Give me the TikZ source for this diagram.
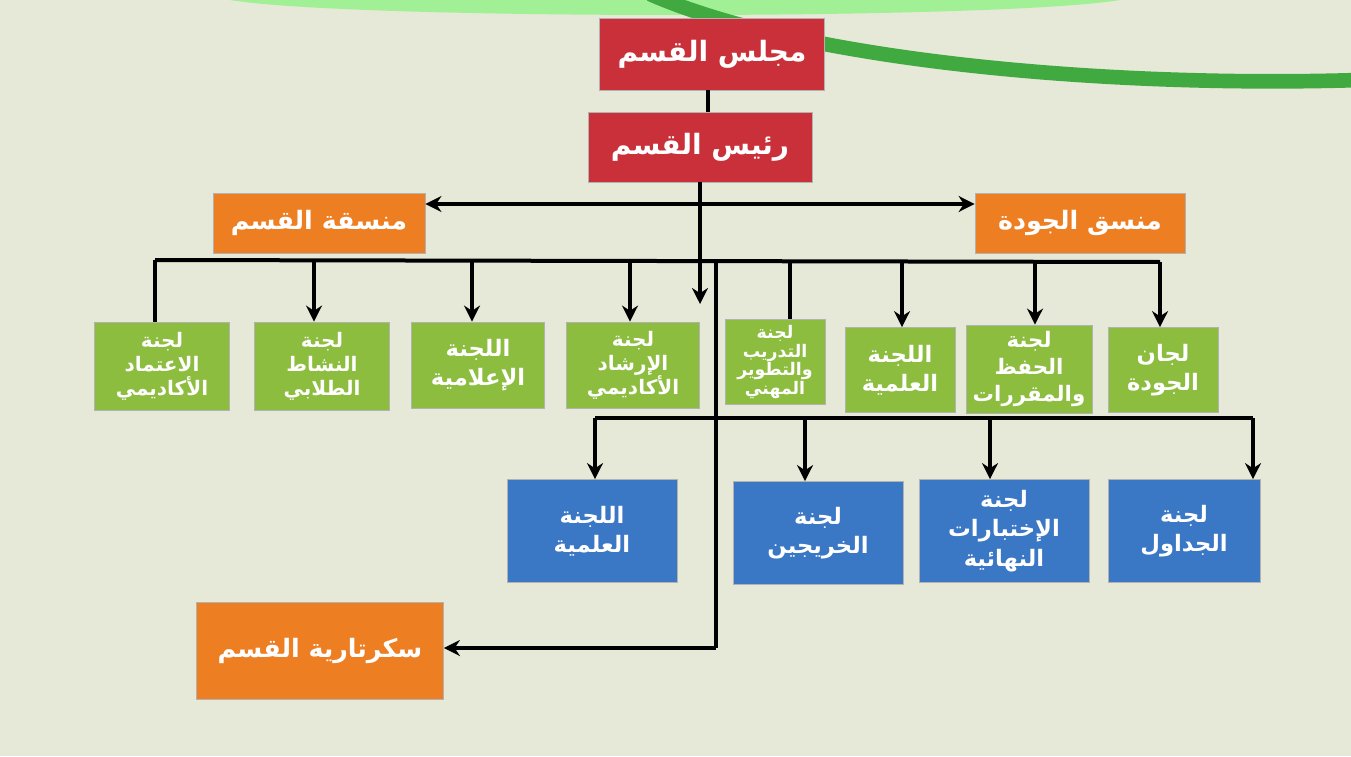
\documentclass[tikz,border=0pt]{standalone}
\usepackage{fontspec}
\newfontfamily\arabicfont[Script=Arabic]{DejaVu Sans}
\TeXXeTstate=1
\usetikzlibrary{arrows.meta}
\newcommand\AR[1]{{\arabicfont\bfseries\beginR #1\endR}}
\definecolor{bg}{HTML}{E6E9D7}
\definecolor{rd}{HTML}{C9303A}
\definecolor{og}{HTML}{EE7E22}
\definecolor{gr}{HTML}{8CBD3F}
\definecolor{bl}{HTML}{3A77C4}
\begin{document}
\begin{tikzpicture}[x=0.75pt,y=-0.75pt,
  box/.style={draw=white!70!black,line width=0.6pt,text=white,align=center,inner sep=0pt},
  bx/.style args={#1/#2/#3}{box,fill=#1,minimum width=#2*0.75pt,minimum height=#3*0.75pt},
  ln/.style={line width=3pt,black},
  ar/.style={ln,-{Stealth[length=12pt,width=12pt]}}]
\fill[bg] (0,0) rectangle (1351,756);
\useasboundingbox (0,0) rectangle (1351,756);
\fill[green!30!bg] (230,0) -- (1120,0) .. controls (1000,20) and (350,20) .. (230,0) -- cycle;
\draw[line width=11pt,green!55!black!75] (650,-6) .. controls (800,60) and (1100,88) .. (1360,80);
% top
\node[bx=rd/225/72,font=\fontsize{21}{24}\selectfont] (majlis) at (712,54) {\AR{مجلس القسم}};
\node[bx=rd/224/70,font=\fontsize{21}{24}\selectfont] (rais) at (700,147) {\AR{رئيس القسم}};
\node[bx=og/212/60,font=\fontsize{19}{22}\selectfont] (munasiqa) at (319,223) {\AR{منسقة القسم}};
\node[bx=og/210/60,font=\fontsize{19}{22}\selectfont] (jawda) at (1080,223) {\AR{منسق الجودة}};
% green
\begin{scope}[every node/.append style={font=\fontsize{15}{18}\selectfont}]
\node[bx=gr/135/88] (g1) at (162,366) {\AR{لجنة}\\\AR{الاعتماد}\\\AR{الأكاديمي}};
\node[bx=gr/135/88] (g2) at (322,366) {\AR{لجنة}\\\AR{النشاط}\\\AR{الطلابي}};
\node[bx=gr/133/86,font=\fontsize{17}{22}\selectfont] (g3) at (478,365) {\AR{اللجنة}\\\AR{الإعلامية}};
\node[bx=gr/133/86] (g4) at (633,365) {\AR{لجنة}\\\AR{الإرشاد}\\\AR{الأكاديمي}};
\node[bx=gr/100/85,font=\fontsize{13}{14}\selectfont] (g5) at (775,362) {\AR{لجنة}\\\AR{التدريب}\\\AR{والتطوير}\\\AR{المهني}};
\node[bx=gr/110/85,font=\fontsize{17}{22}\selectfont] (g6) at (900,370) {\AR{اللجنة}\\\AR{العلمية}};
\node[bx=gr/126/88,font=\fontsize{16}{20}\selectfont] (g7) at (1029,369) {\AR{لجنة}\\\AR{الحفظ}\\\AR{والمقررات}};
\node[bx=gr/110/85,font=\fontsize{17}{22}\selectfont] (g8) at (1163,370) {\AR{لجان}\\\AR{الجودة}};
\end{scope}
% blue
\begin{scope}[every node/.append style={font=\fontsize{17}{22}\selectfont}]
\node[bx=bl/170/103] (b1) at (592,531) {\AR{اللجنة}\\\AR{العلمية}};
\node[bx=bl/170/103] (b2) at (818,533) {\AR{لجنة}\\\AR{الخريجين}};
\node[bx=bl/170/103] (b3) at (1004,531) {\AR{لجنة}\\\AR{الإختبارات}\\\AR{النهائية}};
\node[bx=bl/152/103] (b4) at (1184,531) {\AR{لجنة}\\\AR{الجداول}};
\end{scope}
\node[bx=og/247/97,font=\fontsize{19}{22}\selectfont] (sec) at (320,651) {\AR{سكرتارية القسم}};
% connectors
\draw[ln] (majlis.south -| 708,0) -- (rais.north -| 708,0);
\draw[ln,{Stealth[length=12pt,width=12pt]}-{Stealth[length=12pt,width=12pt]}] (munasiqa.east |- 0,204) -- (jawda.west |- 0,204);
\draw[ar] (rais.south) -- (700,304);
\coordinate (busL) at (155,260);
\coordinate (busR) at (1160,262);
\draw[ln] (busL) -- (busR);
\draw[ln] (busL) -- (g1.north -| busL);
\draw[ar] (314,260) -- (g2.north -| 314,0);
\draw[ar] (472,260) -- (g3.north -| 472,0);
\draw[ar] (630,261) -- (g4.north -| 630,0);
\draw[ln] (790,261) -- (g5.north -| 790,0);
\draw[ar] (902,261) -- (g6.north -| 902,0);
\draw[ar] (1035,262) -- (g7.north -| 1035,0);
\draw[ar] (busR) -- (g8.north -| busR);
\coordinate (vt) at (716,262);
\coordinate (vb) at (716,648);
\draw[ln] (vt) -- (vb);
\draw[ar] (vb) -- (sec.east |- vb);
\coordinate (b2L) at (595,418);
\coordinate (b2R) at (1253,418);
\draw[ln] (b2L) -- (b2R);
\draw[ar] (b2L) -- (b1.north -| b2L);
\draw[ar] (805,418) -- (b2.north -| 805,0);
\draw[ar] (990,418) -- (b3.north -| 990,0);
\draw[ar] (b2R) -- (b4.north -| b2R);
\end{tikzpicture}
\end{document}
